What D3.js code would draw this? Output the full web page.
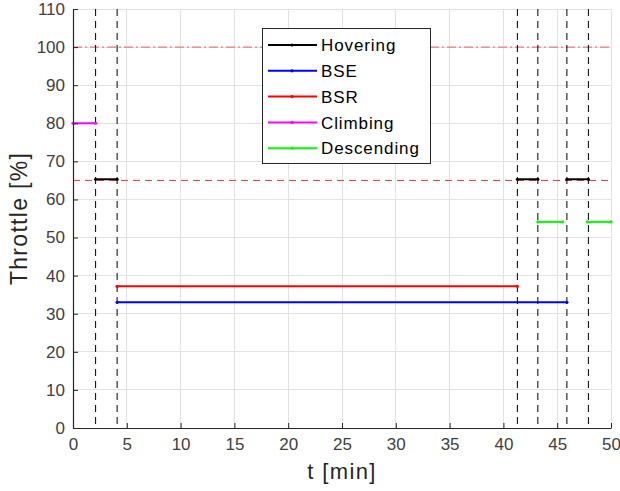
<!DOCTYPE html>
<html><head><meta charset="utf-8">
<script src="https://cdn.jsdelivr.net/npm/d3@7"></script>
<style>body{margin:0;background:#fff;}svg{display:block;font-family:"Liberation Sans",Arial,sans-serif;}</style>
</head><body><div id="chart"></div>
<script>
// ---- data ----
const xTicks = [0,5,10,15,20,25,30,35,40,45,50];
const yTicks = [0,10,20,30,40,50,60,70,80,90,100,110];
const phaseBoundaries = [2.1, 4.1, 41.3, 43.2, 45.9, 47.9];
const hoverRef = 65;      // red dashed reference
const maxRef = 100;       // red dash-dot reference
const seriesNames = ["Hovering","BSE","BSR","Climbing","Descending"];
const seriesColors = ["#000000","#0000ff","#ff0000","#ff00ff","#00ff00"];
const hoveringStart = [2.1, 41.3, 45.9];
const hoveringEnd   = [4.1, 43.2, 47.9];
const hoveringValue = [65.3, 65.3, 65.3];
const bseStart = [4.1];
const bseEnd   = [45.9];
const bseValue = [33.0];
const bsrStart = [4.1];
const bsrEnd   = [41.3];
const bsrValue = [37.2];
const climbingStart = [0];
const climbingEnd   = [2.1];
const climbingValue = [80.0];
const descendingStart = [43.2, 47.8];
const descendingEnd   = [45.5, 50];
const descendingValue = [54.1, 54.1];

const seriesSegs = [
  [hoveringStart, hoveringEnd, hoveringValue],
  [bseStart, bseEnd, bseValue],
  [bsrStart, bsrEnd, bsrValue],
  [climbingStart, climbingEnd, climbingValue],
  [descendingStart, descendingEnd, descendingValue]
];

const W = 620, H = 491;
const L = 73, R = 611, T = 9, B = 428;
const svg = d3.select("#chart").append("svg").attr("width", W).attr("height", H);
const x = d3.scaleLinear().domain([0,50]).range([L,R]);
const y = d3.scaleLinear().domain([0,110]).range([B,T]);

// grid
svg.append("g").selectAll("line").data(xTicks).join("line")
  .attr("x1", d=>x(d)).attr("x2", d=>x(d)).attr("y1", T).attr("y2", B)
  .attr("stroke", "#e3e3e3").attr("stroke-width", 1).attr("shape-rendering","crispEdges");
svg.append("g").selectAll("line").data(yTicks).join("line")
  .attr("x1", L).attr("x2", R).attr("y1", d=>y(d)).attr("y2", d=>y(d))
  .attr("stroke", "#e3e3e3").attr("stroke-width", 1).attr("shape-rendering","crispEdges");

// reference lines
svg.append("line").attr("x1", x(0)).attr("x2", x(50)).attr("y1", y(maxRef)).attr("y2", y(maxRef))
  .attr("stroke", "#f07a7a").attr("stroke-width", 1.2)
  .attr("stroke-dasharray", "9,3,2,3");
svg.append("line").attr("x1", x(0)).attr("x2", x(50)).attr("y1", y(hoverRef)).attr("y2", y(hoverRef))
  .attr("stroke", "#ff3030").attr("stroke-width", 1).attr("stroke-dasharray", "7,5");

// phase boundaries
svg.append("g").selectAll("line").data(phaseBoundaries).join("line")
  .attr("x1", d=>x(d)).attr("x2", d=>x(d)).attr("y1", T).attr("y2", B)
  .attr("stroke", "#000").attr("stroke-width", 1).attr("stroke-dasharray", "7,5");

// series
seriesSegs.forEach((s, i) => {
  const segs = s[0].map((t0, k) => ({t0, t1: s[1][k], v: s[2][k]}));
  const g = svg.append("g");
  g.selectAll("line").data(segs).join("line")
    .attr("x1", d=>x(d.t0)).attr("x2", d=>x(d.t1)).attr("y1", d=>y(d.v)).attr("y2", d=>y(d.v))
    .attr("stroke", seriesColors[i]).attr("stroke-width", 2);
  const pts = segs.flatMap(d => [{t:d.t0, v:d.v},{t:d.t1, v:d.v}]);
  g.selectAll("circle").data(pts).join("circle")
    .attr("cx", d=>x(d.t)).attr("cy", d=>y(d.v)).attr("r", 1.6).attr("fill", seriesColors[i]);
});

// axes
const axCol = "#262626";
const xAxis = svg.append("g").attr("transform", `translate(0,${B})`)
  .call(d3.axisBottom(x).tickValues(xTicks).tickSizeInner(-5).tickSizeOuter(0).tickPadding(10));
const yAxis = svg.append("g").attr("transform", `translate(${L},0)`)
  .call(d3.axisLeft(y).tickValues(yTicks).tickSizeInner(-5).tickSizeOuter(0).tickPadding(8));
[xAxis, yAxis].forEach(a => {
  a.select(".domain").attr("stroke", axCol).attr("stroke-width", 1.2);
  a.selectAll(".tick line").attr("stroke", axCol);
  a.selectAll(".tick text").attr("fill", "#404040").attr("font-size", 17)
    .attr("font-family", "'Liberation Sans', Arial, sans-serif");
});

// axis labels
svg.append("text").attr("x", (L+R)/2).attr("y", 479).attr("text-anchor", "middle")
  .attr("font-size", 22).attr("letter-spacing", 1.4).attr("fill", axCol).text("t [min]");
svg.append("text").attr("transform", `translate(27,${(T+B)/2}) rotate(-90)`).attr("text-anchor", "middle")
  .attr("font-size", 23).attr("letter-spacing", 1.3).attr("fill", axCol).text("Throttle [%]");

// legend
const lg = svg.append("g");
lg.append("rect").attr("x", 262.5).attr("y", 28.5).attr("width", 168).attr("height", 135)
  .attr("fill", "#fff").attr("stroke", "#262626").attr("stroke-width", 1);
seriesNames.forEach((n, i) => {
  const yy = 45 + i*25.8;
  lg.append("line").attr("x1", 268).attr("x2", 317).attr("y1", yy).attr("y2", yy)
    .attr("stroke", seriesColors[i]).attr("stroke-width", 2);
  lg.append("circle").attr("cx", 292).attr("cy", yy).attr("r", 1.6).attr("fill", seriesColors[i]);
  lg.append("text").attr("x", 321).attr("y", yy).attr("dy", "0.36em")
    .attr("font-size", 17).attr("letter-spacing", 0.9).attr("fill", "#000").text(n);
});
</script></body></html>
